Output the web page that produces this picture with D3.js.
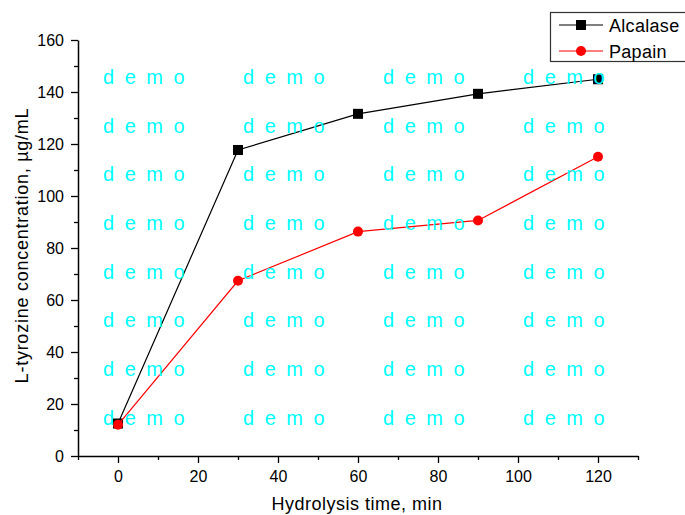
<!DOCTYPE html>
<html>
<head>
<meta charset="utf-8">
<script src="https://cdn.jsdelivr.net/npm/d3@7"></script>
<style>
  body { margin: 0; background: #fff; }
  svg { display: block; font-family: "Liberation Sans", Arial, sans-serif; }
</style>
</head>
<body>
<div id="chart"></div>
<script>
// data
var times = [0, 30, 60, 90, 120];
var alcalase = [12.5, 117.7, 131.6, 139.3, 144.9];
var papain = [12, 67.4, 86.3, 90.6, 115.1];
var xMajor = [0, 20, 40, 60, 80, 100, 120];
var xMinor = [-10, 10, 30, 50, 70, 90, 110, 130];
var yMajor = [0, 20, 40, 60, 80, 100, 120, 140, 160];
var yMinor = [10, 30, 50, 70, 90, 110, 130, 150];
var seriesNames = ["Alcalase", "Papain"];
var watermarkCols = [103, 243, 383, 523];
var watermarkRows = [84, 132.7, 181.4, 230, 278.7, 327.4, 376, 424.8];

var W = 685, H = 515;
var svg = d3.select('#chart').append('svg')
  .attr('width', W)
  .attr('height', H);

var x = d3.scaleLinear().domain([-10, 130]).range([78, 638]);
var y = d3.scaleLinear().domain([0, 160]).range([456, 40]);

// minor ticks first (no labels)
svg.append('g')
  .attr('transform', 'translate(0,' + y(0) + ')')
  .call(d3.axisBottom(x).tickValues(xMinor).tickSize(4).tickSizeOuter(0).tickFormat(''))
  .call(function(g){ g.select('.domain').remove(); });
svg.append('g')
  .attr('transform', 'translate(' + x(-10) + ',0)')
  .call(d3.axisLeft(y).tickValues(yMinor).tickSize(4).tickSizeOuter(0).tickFormat(''))
  .call(function(g){ g.select('.domain').remove(); });

// major ticks + labels
var xAxis = svg.append('g')
  .attr('transform', 'translate(0,' + y(0) + ')')
  .call(d3.axisBottom(x).tickValues(xMajor).tickSize(7).tickPadding(8).tickSizeOuter(0));
var yAxis = svg.append('g')
  .attr('transform', 'translate(' + x(-10) + ',0)')
  .call(d3.axisLeft(y).tickValues(yMajor).tickSize(7).tickPadding(7).tickSizeOuter(0));

svg.selectAll('.tick line').attr('stroke', '#000').attr('stroke-width', 1.3);
svg.selectAll('.domain').attr('stroke', '#000').attr('stroke-width', 1.5);
[xAxis, yAxis].forEach(function(a){
  a.selectAll('text')
    .attr('font-size', 16)
    .attr('fill', '#000')
    .style('font-family', '"Liberation Sans", Arial, sans-serif');
});

// axis titles
svg.append('text')
  .attr('x', 357)
  .attr('y', 510)
  .attr('text-anchor', 'middle')
  .attr('font-size', 18)
  .attr('letter-spacing', 0.5)
  .text('Hydrolysis time, min');

svg.append('text')
  .attr('transform', 'translate(28,245.5) rotate(-90)')
  .attr('text-anchor', 'middle')
  .attr('font-size', 18)
  .attr('letter-spacing', 0.75)
  .text('L-tyrozine concentration, µg/mL');

// series
var line = d3.line()
  .x(function(d, i){ return x(times[i]); })
  .y(function(d){ return y(d); });

svg.append('path').datum(alcalase)
  .attr('d', line).attr('fill', 'none').attr('stroke', '#000').attr('stroke-width', 1.2);
svg.selectAll('.sq').data(alcalase).enter().append('rect')
  .attr('class', 'sq')
  .attr('x', function(d, i){ return x(times[i]) - 5; })
  .attr('y', function(d){ return y(d) - 5; })
  .attr('width', 10).attr('height', 10)
  .attr('fill', '#000');

svg.append('path').datum(papain)
  .attr('d', line).attr('fill', 'none').attr('stroke', '#ff0000').attr('stroke-width', 1.2);
svg.selectAll('.dot').data(papain).enter().append('circle')
  .attr('class', 'dot')
  .attr('cx', function(d, i){ return x(times[i]); })
  .attr('cy', function(d){ return y(d); })
  .attr('r', 5)
  .attr('fill', '#ff0000');

// watermark on top
watermarkRows.forEach(function(ry){
  watermarkCols.forEach(function(cx){
    svg.append('text')
      .attr('x', cx).attr('y', ry)
      .attr('font-size', 20)
      .attr('letter-spacing', 2.5)
      .attr('fill', '#00ffff')
      .text('d e m o');
  });
});

// legend
var leg = svg.append('g');
leg.append('rect')
  .attr('x', 550.5).attr('y', 12.5)
  .attr('width', 140).attr('height', 49)
  .attr('fill', '#fff').attr('stroke', '#333').attr('stroke-width', 1.2);
var legRows = [25, 51];
seriesNames.forEach(function(name, i){
  var col = i == 0 ? '#000' : '#ff0000';
  var ly = legRows[i];
  leg.append('line')
    .attr('x1', 559).attr('x2', 603).attr('y1', ly).attr('y2', ly)
    .attr('stroke', col).attr('stroke-width', 1.2);
  if (i == 0) {
    leg.append('rect').attr('x', 576).attr('y', ly - 5).attr('width', 10).attr('height', 10).attr('fill', col);
  } else {
    leg.append('circle').attr('cx', 581).attr('cy', ly).attr('r', 5).attr('fill', col);
  }
  leg.append('text')
    .attr('x', 609).attr('y', ly + 6.5)
    .attr('font-size', 18)
    .attr('letter-spacing', 0.3)
    .text(name);
});
</script>
</body>
</html>
